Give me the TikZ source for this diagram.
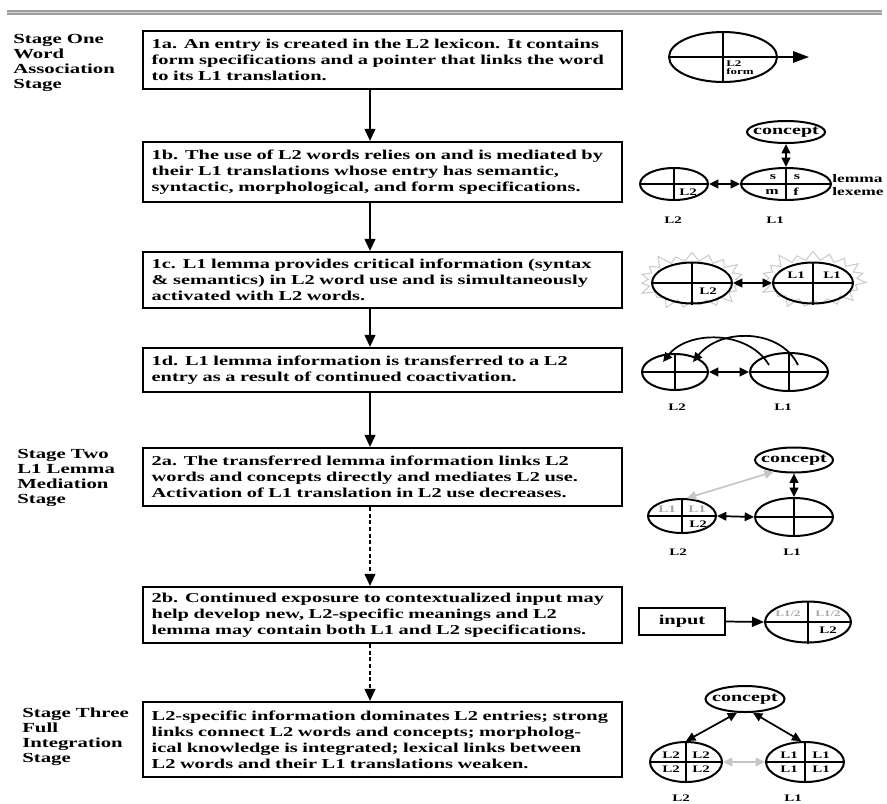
\documentclass[tikz,border=0pt]{standalone}
\usepackage{fontspec}
\setmainfont{Liberation Serif}[FakeStretch=1.5]
\usetikzlibrary{arrows.meta,shapes.geometric,shapes.symbols,calc}
\begin{document}
\begin{tikzpicture}[x=0.75pt,y=-0.75pt,
  every node/.style={font=\bfseries},
  box/.style={draw, line width=1.6pt, minimum width=359.25pt, text width=346.25pt, inner xsep=6.5pt, align=left, font=\fontsize{10.2}{12}\selectfont\bfseries},
  stage/.style={anchor=north west, align=left, inner sep=0, font=\fontsize{10.4}{11.2}\selectfont\bfseries},
  flow/.style={line width=1.5pt, -{Triangle[length=9pt,width=8pt]}},
  ell/.style 2 args={ellipse, draw, line width=1.5pt, minimum width=#1*0.75pt, minimum height=#2*0.75pt, inner sep=0},
  quad/.style={line width=1.5pt},
  dar/.style={line width=1.3pt, {Triangle[length=7pt,width=6.5pt]}-{Triangle[length=7pt,width=6.5pt]}},
  gdar/.style={dar, draw=gray!45, fill=gray!45},
  small/.style={font=\fontsize{7.5}{8}\selectfont\bfseries, inner sep=0},
  gsmall/.style={small, text=gray!70},
  lbl/.style={font=\fontsize{10}{12}\selectfont\bfseries, inner sep=0},
  burst/.style={starburst, draw=gray!40, line width=0.8pt, starburst points=19, starburst point height=9pt, minimum width=84pt, minimum height=48pt},
]
\useasboundingbox (0,0) rectangle (887,803);
% top rule
\draw[line width=3.2pt, gray!75] (7,12.5) -- (882,12.5);
\draw[line width=0.7pt, gray!35] (7,12.5) -- (882,12.5);

% stage labels
\node[stage] (s1) at (13,34) {Stage One\\Word\\Association\\Stage};
\node[stage] (s2) at (17,449) {Stage Two\\L1 Lemma\\Mediation\\Stage};
\node[stage] (s3) at (22,708) {Stage Three\\Full\\Integration\\Stage};

% boxes
\node[box, minimum height=43.5pt] (b1a) at (382.5,60) {1a. An entry is created in the L2 lexicon. It contains\\form specifications and a pointer that links the word\\to its L1 translation.};
\node[box, minimum height=45pt] (b1b) at (382.5,172) {1b. The use of L2 words relies on and is mediated by\\their L1 translations whose entry has semantic,\\syntactic, morphological, and form specifications.};
\node[box, minimum height=42pt] (b1c) at (382.5,280) {1c. L1 lemma provides critical information (syntax\\\& semantics) in L2 word use and is simultaneously\\activated with L2 words.};
\node[box, minimum height=33pt] (b1d) at (382.5,370) {1d. L1 lemma information is transferred to a L2\\entry as a result of continued coactivation.};
\node[box, minimum height=43.5pt] (b2a) at (382.5,477) {2a. The transferred lemma information links L2\\words and concepts directly and mediates L2 use.\\Activation of L1 translation in L2 use decreases.};
\node[box, minimum height=42pt] (b2b) at (382.5,615) {2b. Continued exposure to contextualized input may\\help develop new, L2-specific meanings and L2\\lemma may contain both L1 and L2 specifications.};
\node[box, minimum height=56.25pt] (b3) at (382.5,739.5) {L2-specific information dominates L2 entries; strong\\links connect L2 words and concepts; morpholog-\\ical knowledge is integrated; lexical links between\\L2 words and their L1 translations weaken.};

\coordinate (ax) at (370,0);
\draw[flow] (b1a.south -| ax) -- (b1b.north -| ax);
\draw[flow] (b1b.south -| ax) -- (b1c.north -| ax);
\draw[flow] (b1c.south -| ax) -- (b1d.north -| ax);
\draw[flow] (b1d.south -| ax) -- (b2a.north -| ax);
\draw[flow, dash pattern=on 3pt off 2pt] (b2a.south -| ax) -- (b2b.north -| ax);
\draw[flow, dash pattern=on 3pt off 2pt] (b2b.south -| ax) -- (b3.north -| ax);

% ---- 1a
\node[ell={108}{50}] (e1) at (723,57) {};
\draw[quad] (e1.north) -- (e1.south) (e1.west) -- (e1.east);
\coordinate (e1t) at (809,57);
\draw[line width=1.5pt, -{Triangle[length=12pt,width=8.5pt]}] (e1.east) -- (e1t);
\node[small, anchor=north west, align=left, font=\fontsize{6.5}{6.5}\selectfont\bfseries] (e1x) at (726,60) {L2\\form};

% ---- 1b
\node[ell={78}{22}] (c1b) at (786,132) {};
\node[lbl] at (c1b) {concept};
\node[ell={90}{32}] (e1bR) at (786,184) {};
\node[ell={68}{32}] (e1bL) at (674,184) {};
\draw[quad] (e1bR.north) -- (e1bR.south) (e1bR.west) -- (e1bR.east);
\draw[quad] (e1bL.north) -- (e1bL.south) (e1bL.west) -- (e1bL.east);
\draw[dar] (c1b.south) -- (e1bR.north);
\draw[dar] (e1bL.east) -- (e1bR.west);
\node[small, font=\fontsize{8}{8}\selectfont\bfseries] at ([shift={(-13,-7)}]e1bR.center) {s};
\node[small, font=\fontsize{8}{8}\selectfont\bfseries] at ([shift={(11,-7)}]e1bR.center) {s};
\node[small, font=\fontsize{8}{8}\selectfont\bfseries] at ([shift={(-14,8)}]e1bR.center) {m};
\node[small, font=\fontsize{8}{8}\selectfont\bfseries] at ([shift={(10,8)}]e1bR.center) {f};
\node[small] at ([shift={(14,8)}]e1bL.center) {L2};
\node[anchor=west, align=left, inner sep=0, font=\fontsize{8.7}{10}\selectfont\bfseries] (lx) at (832,185) {lemma\\lexeme};
\node[small] at (673,220) {L2};
\node[small] at (775,220) {L1};

% ---- 1c
\node[burst] (bu1) at (692,281) {};
\node[burst] (bu2) at (813,280) {};
\node[ell={80}{41}] (e1cL) at (692,283) {};
\node[ell={80}{41}] (e1cR) at (813,283) {};
\draw[quad] (e1cL.north) -- (e1cL.south) (e1cL.west) -- (e1cL.east);
\draw[quad] (e1cR.north) -- (e1cR.south) (e1cR.west) -- (e1cR.east);
\draw[dar] (e1cL.east) -- (e1cR.west);
\node[small] at ([shift={(16,8)}]e1cL.center) {L2};
\node[small] at ([shift={(-17,-8)}]e1cR.center) {L1};
\node[small] at ([shift={(19,-8)}]e1cR.center) {L1};

% ---- 1d
\node[ell={66}{36}] (e1dL) at (675,372) {};
\node[ell={78}{38}] (e1dR) at (789,372) {};
\draw[quad] (e1dL.north) -- (e1dL.south) (e1dL.west) -- (e1dL.east);
\draw[quad] (e1dR.north) -- (e1dR.south) (e1dR.west) -- (e1dR.east);
\draw[dar] (e1dL.east) -- (e1dR.west);
\coordinate (a1s) at ([shift={(-20,-7)}]e1dR.center);
\coordinate (a1e) at ([shift={(-12,-10)}]e1dL.center);
\coordinate (a2s) at ([shift={(9,-7)}]e1dR.center);
\coordinate (a2e) at ([shift={(18,-10)}]e1dL.center);
\draw[line width=1.3pt, -{Triangle[length=7pt,width=6.5pt]}] (a1s) .. controls (748,330) and (688,330) .. (a1e);
\draw[line width=1.3pt, -{Triangle[length=7pt,width=6.5pt]}] (a2s) .. controls (780,328) and (720,328) .. (a2e);
\node[small] at (677,407) {L2};
\node[small] at (783,407) {L1};

% ---- 2a
\node[ell={78}{25}] (c2a) at (794,460) {};
\node[lbl] at (c2a) {concept};
\node[ell={78}{38}] (e2aR) at (794,517) {};
\node[ell={68}{34}] (e2aL) at (682,516) {};
\draw[quad] (e2aR.north) -- (e2aR.south) (e2aR.west) -- (e2aR.east);
\draw[quad] (e2aL.north) -- (e2aL.south) (e2aL.west) -- (e2aL.east);
\draw[dar] (c2a.south) -- (e2aR.north);
\draw[dar] (e2aL.east) -- (e2aR.west);
\draw[gdar] (e2aL.75) -- (c2a.210);
\node[gsmall] at ([shift={(-15,-7)}]e2aL.center) {L1};
\node[gsmall] at ([shift={(15,-7)}]e2aL.center) {L1};
\node[small] at ([shift={(16,8)}]e2aL.center) {L2};
\node[small] at (678,552) {L2};
\node[small] at (792,552) {L1};

% ---- 2b
\node[draw, line width=1.3pt, minimum width=64.5pt, minimum height=20pt, inner sep=0, font=\fontsize{10.2}{12}\selectfont\bfseries] (inp) at (682,621.5) {input};
\node[ell={86}{41}] (e2b) at (808,622) {};
\draw[quad] (e2b.north) -- (e2b.south) (e2b.west) -- (e2b.east);
\draw[line width=1.3pt, -{Triangle[length=9pt,width=7.5pt]}] (inp.east) -- (e2b.west);
\node[gsmall, font=\fontsize{6.4}{7}\selectfont\bfseries] at ([shift={(-20,-8)}]e2b.center) {L1/2};
\node[gsmall, font=\fontsize{6.4}{7}\selectfont\bfseries] at ([shift={(20,-8)}]e2b.center) {L1/2};
\node[small] at ([shift={(20,8)}]e2b.center) {L2};

% ---- 3
\node[ell={79}{26}] (c3) at (745,699) {};
\node[lbl] at (c3) {concept};
\node[ell={72}{40}] (e3L) at (686,762) {};
\node[ell={78}{40}] (e3R) at (805,762) {};
\draw[quad] (e3L.north) -- (e3L.south) (e3L.west) -- (e3L.east);
\draw[quad] (e3R.north) -- (e3R.south) (e3R.west) -- (e3R.east);
\draw[dar] (c3.240) -- (e3L.north);
\draw[dar] (c3.300) -- (e3R.100);
\draw[gdar] (e3L.east) -- (e3R.west);
\node[small] at ([shift={(-15,-7)}]e3L.center) {L2};
\node[small] at ([shift={(15,-7)}]e3L.center) {L2};
\node[small] at ([shift={(-15,7)}]e3L.center) {L2};
\node[small] at ([shift={(15,7)}]e3L.center) {L2};
\node[small] at ([shift={(-16,-7)}]e3R.center) {L1};
\node[small] at ([shift={(16,-7)}]e3R.center) {L1};
\node[small] at ([shift={(-16,7)}]e3R.center) {L1};
\node[small] at ([shift={(16,7)}]e3R.center) {L1};
\node[small] at (681,798) {L2};
\node[small] at (793,798) {L1};
\end{tikzpicture}
\end{document}
